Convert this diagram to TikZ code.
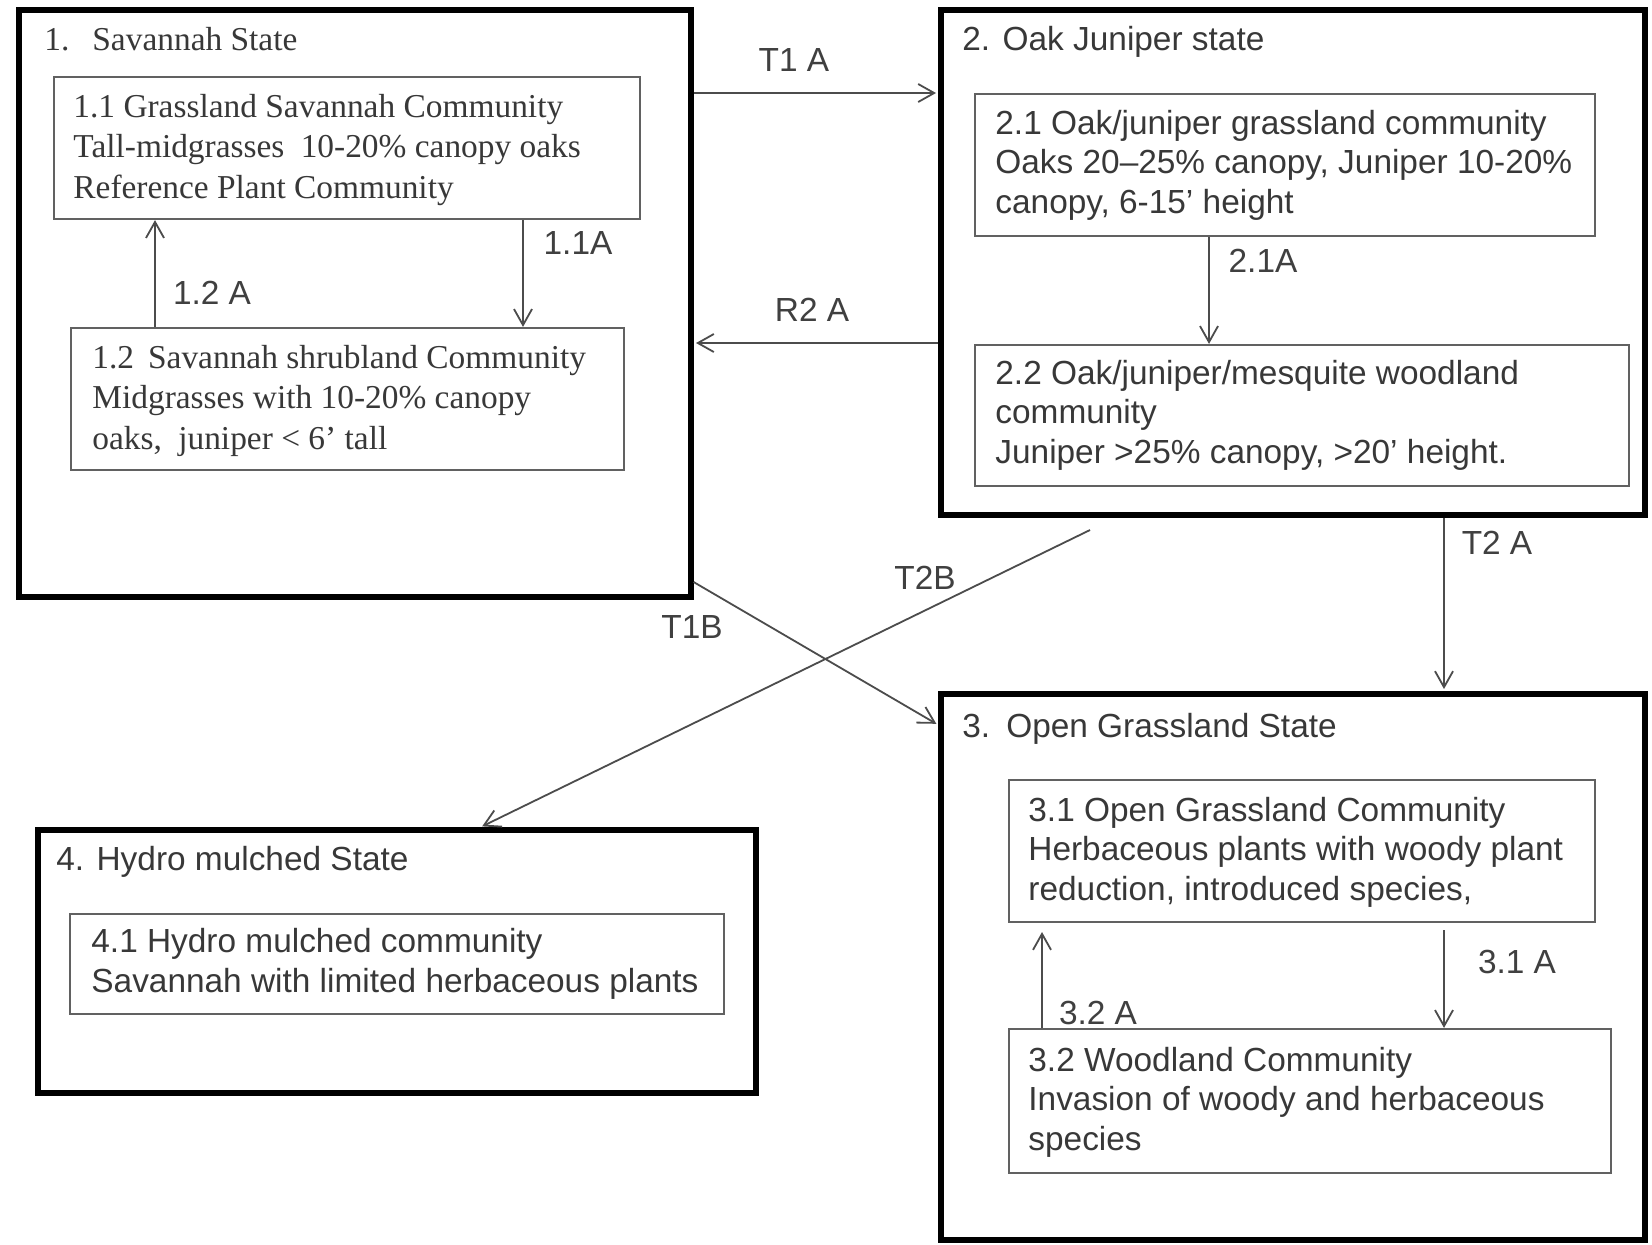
\documentclass[tikz,border=0pt]{standalone}
\usepackage{fontspec}
\setmainfont{Liberation Sans}
\newfontfamily\tnr{Liberation Serif}
\usetikzlibrary{fit,arrows.meta}
\begin{document}
\begin{tikzpicture}[x=0.5pt,y=-0.5pt,
  outerbox/.style={draw=black,line width=2.6pt,inner sep=0pt},
  innerbox/.style={draw=black!62,line width=1.1pt,inner sep=0pt},
  txt/.style={anchor=base west,inner sep=0pt,align=left,text=black!78,font=\fontsize{16.7}{19.6}\selectfont},
  serif/.style={anchor=base west,inner sep=0pt,align=left,text=black!78,font=\tnr\fontsize{16.7}{20.2}\selectfont},
  lbl/.style={inner sep=0pt,text=black!75,font=\fontsize{16.7}{19.6}\selectfont},
  arr/.style={draw=black!70,line width=0.9pt,-{Straight Barb[length=8pt,width=9pt]}}]
\useasboundingbox[fill=white] (0,0) rectangle (1652,1244);

% state boxes
\node[outerbox,fit={(19,10)(691,597)}] (B1) {};
\node[outerbox,fit={(941,10)(1645,515)}] (B2) {};
\node[outerbox,fit={(941,694)(1645,1240)}] (B3) {};
\node[outerbox,fit={(38,830)(756,1093)}] (B4) {};

% community boxes
\node[innerbox,fit={(54,77)(640,219)}] (B11) {};
\node[innerbox,fit={(71,328)(624,470)}] (B12) {};
\node[innerbox,fit={(975,94)(1595,236)}] (B21) {};
\node[innerbox,fit={(975,345)(1629,486)}] (B22) {};
\node[innerbox,fit={(1009,780)(1595,922)}] (B31) {};
\node[innerbox,fit={(1009,1029)(1611,1173)}] (B32) {};
\node[innerbox,fit={(70,914)(724,1014)}] (B41) {};

% titles
\node[serif] (T1) at (44,50) {1.\hspace{11.5pt}Savannah State};
\node[txt] (T2) at (962,50) {2. Oak Juniper state};
\node[txt] (T3) at (962,737) {3.\hspace{8pt}Open Grassland State};
\node[txt] (T4) at (56,870) {4. Hydro mulched State};

% community texts (anchored at the baseline of the last line)
\node[serif] (X11) at (73,198) {1.1 Grassland Savannah Community\\Tall-midgrasses\hspace{4pt} 10-20\% canopy oaks\\Reference Plant Community};
\node[serif] (X12) at (92,449) {1.2\hspace{7pt}Savannah shrubland Community\\Midgrasses with 10-20\% canopy\\oaks,\hspace{4pt} juniper < 6’ tall};
\node[txt] (X21) at (995,213) {2.1 Oak/juniper grassland community\\Oaks 20–25\% canopy, Juniper 10-20\%\\canopy, 6-15’ height};
\node[txt] (X22) at (995,463) {2.2 Oak/juniper/mesquite woodland\\community\\Juniper >25\% canopy, >20’ height.};
\node[txt] (X31) at (1028,900) {3.1 Open Grassland Community\\Herbaceous plants with woody plant\\reduction, introduced species,};
\node[txt] (X32) at (1028,1150) {3.2 Woodland Community\\Invasion of woody and herbaceous\\species};
\node[txt] (X41) at (91,992) {4.1 Hydro mulched community\\Savannah with limited herbaceous plants};

% helper coordinates
\coordinate (yT1A) at (0,93);
\coordinate (yR2A) at (0,343);
\coordinate (xT2A) at (1444,0);
\coordinate (yT1Bs) at (0,582);
\coordinate (yT1Be) at (0,725);
\coordinate (sT2B) at (1090,530);
\coordinate (xT2B) at (480,0);
\coordinate (x11A) at (523,0);
\coordinate (x12A) at (155,0);
\coordinate (x21A) at (1209,0);
\coordinate (s31A) at (1444,930);
\coordinate (e32A) at (1042,932);

% transitions
\draw[arr,shorten >=1.2pt] (B1.east |- yT1A) -- (B2.west |- yT1A);
\draw[arr,shorten >=1.2pt] (B2.west |- yR2A) -- (B1.east |- yR2A);
\draw[arr,shorten >=1.2pt] (B2.south -| xT2A) -- (B3.north -| xT2A);
\draw[arr,shorten >=1.2pt] (B1.east |- yT1Bs) -- (B3.west |- yT1Be);
\draw[arr,shorten >=1.2pt] (sT2B) -- (B4.north -| xT2B);

% pathways
\draw[arr] (B11.south -| x11A) -- (B12.north -| x11A);
\draw[arr] (B12.north -| x12A) -- (B11.south -| x12A);
\draw[arr] (B21.south -| x21A) -- (B22.north -| x21A);
\draw[arr] (s31A) -- (B32.north -| s31A);
\draw[arr] (B32.north -| e32A) -- (e32A);

% labels
\node[lbl] (LT1A) at (794,60) {T1 A};
\node[lbl] (LR2A) at (812,310) {R2 A};
\node[lbl] (LT2A) at (1497,543) {T2 A};
\node[lbl] (LT1B) at (692,627) {T1B};
\node[lbl] (LT2B) at (925,578) {T2B};
\node[lbl] (L11A) at (578,243) {1.1A};
\node[lbl] (L12A) at (212,293) {1.2 A};
\node[lbl] (L21A) at (1263,261) {2.1A};
\node[lbl] (L31A) at (1517,962) {3.1 A};
\node[lbl] (L32A) at (1098,1013) {3.2 A};
\end{tikzpicture}
\end{document}
